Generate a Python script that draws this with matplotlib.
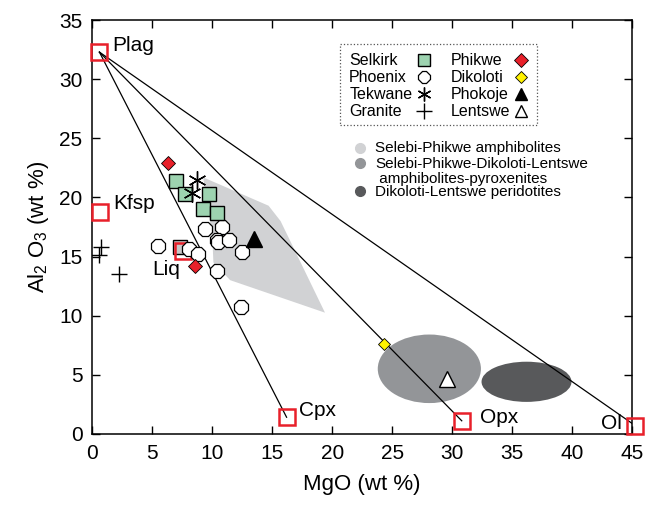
import numpy as np
import matplotlib.pyplot as plt
from matplotlib.patches import Polygon, Ellipse, Rectangle

plt.rcParams['font.family'] = ['Liberation Sans', 'DejaVu Sans']
plt.rcParams['mathtext.default'] = 'regular'

# sample data (MgO, Al2O3 wt %)
selkirk_x = [7.0, 7.75, 9.7, 9.2, 10.4]
selkirk_y = [21.4, 20.3, 20.3, 19.0, 18.7]
phoenix_x = [5.5, 8.1, 8.8, 9.4, 10.8, 10.4, 10.5, 11.4, 12.5, 10.4, 12.4]
phoenix_y = [15.9, 15.6, 15.2, 17.3, 17.5, 16.4, 16.2, 16.4, 15.4, 13.8, 10.7]
tekwane_x = [8.7, 8.3]
tekwane_y = [21.5, 20.4]
granite_x = [0.75, 0.6, 2.2]
granite_y = [15.8, 15.1, 13.5]
phikwe_x = [6.3, 8.6]
phikwe_y = [22.9, 14.2]
dikoloti_x = [24.3]
dikoloti_y = [7.6]
phokoje_x = [13.5]
phokoje_y = [16.5]
lentswe_x = [29.6]
lentswe_y = [4.6]
other_x = [7.3]
other_y = [15.8]

# end members
em_names = ['Plag', 'Kfsp', 'Liq', 'Cpx', 'Opx', 'Ol']
em_x = [0.6, 0.65, 7.6, 16.2, 30.8, 45.25]
em_y = [32.3, 18.8, 15.5, 1.4, 1.1, 0.7]
tie_to = ['Cpx', 'Opx', 'Ol']

# fields
amph_x = [9.25, 14.7, 15.7, 19.4, 11.5, 10.1, 10.0, 9.4]
amph_y = [21.7, 19.3, 18.0, 10.25, 13.0, 14.5, 16.8, 20.6]
pyx_ell = (28.1, 5.5, 8.6, 5.8)
per_ell = (36.2, 4.4, 7.5, 3.4)

c_light = '#d1d2d4'
c_mid = '#939598'
c_dark = '#58595b'
c_red = '#e8202a'
c_green = '#9dd3b0'

fig = plt.figure(figsize=(6.45, 5.05), dpi=100)
ax = fig.add_axes([0.143, 0.141, 0.837, 0.819])

ax.add_patch(Polygon(np.column_stack([amph_x, amph_y]), closed=True,
                     facecolor=c_light, edgecolor='none', zorder=1))
ax.add_patch(Ellipse(pyx_ell[:2], pyx_ell[2], pyx_ell[3], facecolor=c_mid,
                     edgecolor='none', zorder=1))
ax.add_patch(Ellipse(per_ell[:2], per_ell[2], per_ell[3], facecolor=c_dark,
                     edgecolor='none', zorder=1))

p0 = em_names.index('Plag')
for name in tie_to:
    i = em_names.index(name)
    ax.plot([em_x[p0], em_x[i]], [em_y[p0], em_y[i]], color='k', lw=0.9, zorder=2)

ax.plot(other_x, other_y, 's', ms=9.5, mfc='#c8c8c8', mec='k', mew=1, zorder=3)
ax.plot(em_x, em_y, 's', ms=11, mfc='none', mec=c_red, mew=1.8, zorder=4,
        clip_on=False)

offs = {'Plag': (1.1, 0.6, 'left'), 'Kfsp': (1.1, 0.7, 'left'),
        'Liq': (-2.6, -1.6, 'left'), 'Cpx': (1.0, 0.55, 'left'),
        'Opx': (1.5, 0.3, 'left'), 'Ol': (-1.1, 0.15, 'right')}
for n, x, y in zip(em_names, em_x, em_y):
    dx, dy, ha = offs[n]
    ax.text(x + dx, y + dy, n, fontsize=15, ha=ha, va='center', zorder=6)

styles = {
    'Selkirk': dict(marker='s', ms=9.5, mfc=c_green, mec='k', mew=1),
    'Phoenix': dict(marker='8', ms=10.5, mfc='white', mec='k', mew=0.9),
    'Tekwane': dict(marker=(6, 2, 0), ms=13, color='k', mew=1),
    'Granite': dict(marker='+', ms=11, color='k', mew=1),
    'Phikwe': dict(marker='D', ms=7.5, mfc=c_red, mec='k', mew=0.6),
    'Dikoloti': dict(marker='D', ms=6.5, mfc='#fff200', mec='k', mew=0.6),
    'Phokoje': dict(marker='^', ms=11, color='k'),
    'Lentswe': dict(marker='^', ms=11, mfc='white', mec='k', mew=1),
}
series = [('Phoenix', phoenix_x, phoenix_y), ('Selkirk', selkirk_x, selkirk_y),
          ('Tekwane', tekwane_x, tekwane_y), ('Granite', granite_x, granite_y),
          ('Phikwe', phikwe_x, phikwe_y), ('Dikoloti', dikoloti_x, dikoloti_y),
          ('Phokoje', phokoje_x, phokoje_y), ('Lentswe', lentswe_x, lentswe_y)]
for name, xs, ys in series:
    ax.plot(xs, ys, linestyle='none', zorder=5, **styles[name])

ax.set_xlim(0, 45)
ax.set_ylim(0, 35)
ax.set_xticks(np.arange(0, 46, 5))
ax.set_yticks(np.arange(0, 36, 5))
ax.tick_params(direction='in', length=6, width=1, top=True, right=True,
               labelsize=15, pad=7)
for s in ax.spines.values():
    s.set_linewidth(1.1)
ax.set_xlabel('MgO (wt %)', fontsize=16, labelpad=8)
ax.set_ylabel('Al$_2$ O$_3$ (wt %)', fontsize=16, labelpad=6)

# symbol key, laid out by hand (labels left aligned, symbols after)
key_cols = [['Selkirk', 'Phoenix', 'Tekwane', 'Granite'],
            ['Phikwe', 'Dikoloti', 'Phokoje', 'Lentswe']]
shrink = {'Selkirk': 8, 'Phoenix': 9, 'Tekwane': 10, 'Phokoje': 9, 'Lentswe': 9,
          'Phikwe': 7, 'Dikoloti': 6}
ax.add_patch(Rectangle((0.459, 0.746), 0.365, 0.196, transform=ax.transAxes,
                       facecolor='white', edgecolor='#555555', lw=0.9, ls=':',
                       zorder=7))
for c, (tx, mx) in enumerate([(0.476, 0.614), (0.664, 0.795)]):
    for r, name in enumerate(key_cols[c]):
        y = 0.903 - r * 0.041
        ax.text(tx, y, name, transform=ax.transAxes, fontsize=11.5,
                va='center', ha='left', zorder=8)
        st = dict(styles[name])
        st['ms'] = shrink.get(name, st['ms'])
        ax.plot([mx], [y], transform=ax.transAxes, zorder=8, clip_on=False, **st)

field_labels = ['Selebi-Phikwe amphibolites',
                'Selebi-Phikwe-Dikoloti-Lentswe\n amphibolites-pyroxenites',
                'Dikoloti-Lentswe peridotites']
field_colors = [c_light, c_mid, c_dark]
field_rows = [0.692, 0.654, 0.586]
for lab, col, y in zip(field_labels, field_colors, field_rows):
    ax.plot([0.496], [y], 'o', ms=7, color=col, transform=ax.transAxes,
            zorder=8, clip_on=False)
    ax.text(0.524, y + 0.016, lab, transform=ax.transAxes, fontsize=11,
            va='top', ha='left', linespacing=1.1, zorder=8)

fig.savefig('out.png', dpi=100)
